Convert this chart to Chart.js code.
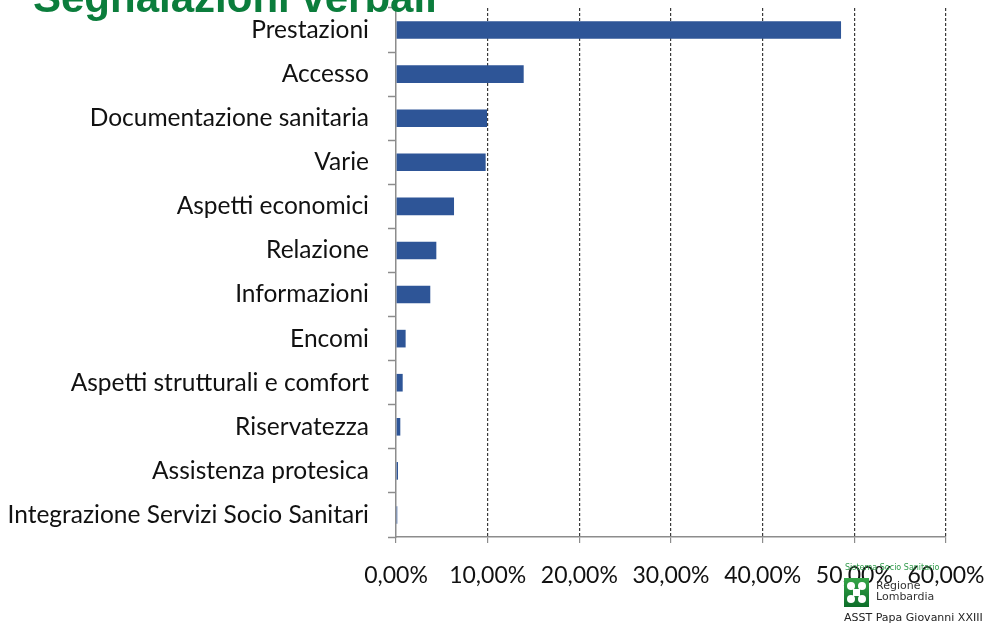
<!DOCTYPE html>
<html>
<head>
    <title>Segnalazioni verbali</title>
    <script src="https://cdn.jsdelivr.net/npm/chart.js"></script>
    <style>
        html, body { margin: 0; padding: 0; background: #fff; overflow: hidden; }
        #wrap { position: relative; width: 989px; height: 623px; }
        #title {
            position: absolute; left: 33px; top: -23px; margin: 0;
            font: bold 42px "Liberation Sans", Arial, sans-serif; line-height: 42px;
            color: #0b7d3c; white-space: nowrap; z-index: 2;
        }
        #logo { position: absolute; left: 844px; top: 563px; width: 150px; height: 60px; font-family: "DejaVu Sans", sans-serif; }
        #logo .sys { position: absolute; left: 1px; top: 0; font-size: 8px; color: #2f9a4a; white-space: nowrap; }
        #logo .box { position: absolute; left: 0; top: 15px; width: 25px; height: 29px; background: linear-gradient(#35a547, #0d6e2a); }
        #logo .reg { position: absolute; left: 32px; top: 17px; font-size: 11px; line-height: 11px; color: #333; }
        #logo .asst { position: absolute; left: 0; top: 48px; font-size: 11px; color: #222; white-space: nowrap; }
    </style>
</head>
<body>
<div id="wrap">
    <div id="title">Segnalazioni verbali</div>
    <canvas id="chart" width="989" height="623"></canvas>
    <div id="logo">
        <div class="sys">Sistema Socio Sanitario</div>
        <div class="box">
            <svg width="25" height="29" viewBox="0 0 25 29">
                <g fill="#fff">
                    <circle cx="7" cy="8" r="4"/><circle cx="18" cy="8" r="4"/>
                    <circle cx="7" cy="21" r="4"/><circle cx="18" cy="21" r="4"/>
                    <rect x="9" y="11" width="7" height="7"/>
                </g>
            </svg>
        </div>
        <div class="reg">Regione<br>Lombardia</div>
        <div class="asst">ASST Papa Giovanni XXIII</div>
    </div>
</div>

<script>
    // categories, top to bottom
    const categories = [
        'Prestazioni',
        'Accesso',
        'Documentazione sanitaria',
        'Varie',
        'Aspetti economici',
        'Relazione',
        'Informazioni',
        'Encomi',
        'Aspetti strutturali e comfort',
        'Riservatezza',
        'Assistenza protesica',
        'Integrazione Servizi Socio Sanitari'
    ];
    // percentages
    const values = [48.55, 13.93, 9.93, 9.78, 6.33, 4.40, 3.74, 1.05, 0.73, 0.47, 0.22, 0.14];
    const xMin = 0, xMax = 60, xStep = 10;

    const labelFont = { family: 'Lato, "Open Sans", sans-serif', size: 24.5 };
    const tickFont = { family: 'Lato, "Open Sans", sans-serif', size: 23 };

    const ctx = document.getElementById('chart').getContext('2d');
    new Chart(ctx, {
        type: 'bar',
        data: {
            labels: categories,
            datasets: [{
                data: values,
                backgroundColor: '#2e5597',
                borderWidth: 0,
                barPercentage: 0.4,
                categoryPercentage: 1
            }]
        },
        options: {
            indexAxis: 'y',
            responsive: false,
            animation: false,
            layout: { padding: { top: 8, right: 43, left: 0, bottom: 0 } },
            plugins: { legend: { display: false }, tooltip: { enabled: false } },
            scales: {
                x: {
                    min: xMin,
                    max: xMax,
                    afterFit: s => {
                        s.height = 86;
                        s.paddingLeft = 0;
                        s.paddingRight = 0;
                    },
                    ticks: {
                        stepSize: xStep,
                        padding: 19,
                        color: '#111',
                        font: tickFont,
                        maxRotation: 0,
                        callback: v => v.toFixed(2).replace('.', ',') + '%'
                    },
                    grid: {
                        color: c => c.tick && c.tick.value === 0 ? 'rgba(0,0,0,0)' : '#3a3a3a',
                        lineWidth: 1.2,
                        tickColor: '#8c8c8c',
                        tickBorderDash: [],
                        tickLength: 6
                    },
                    border: { display: true, color: '#8c8c8c', width: 1.5, dash: [3, 2] }
                },
                y: {
                    afterFit: s => {
                        s.width = 396;
                        s.paddingTop = 0;
                        s.paddingBottom = 0;
                    },
                    ticks: { padding: 19, color: '#111', font: labelFont },
                    grid: {
                        offset: true,
                        drawOnChartArea: false,
                        tickLength: 8,
                        tickColor: '#8c8c8c',
                        tickWidth: 1.5
                    },
                    border: { display: true, color: '#8c8c8c', width: 1.5 }
                }
            }
        }
    });
</script>
</body>
</html>
